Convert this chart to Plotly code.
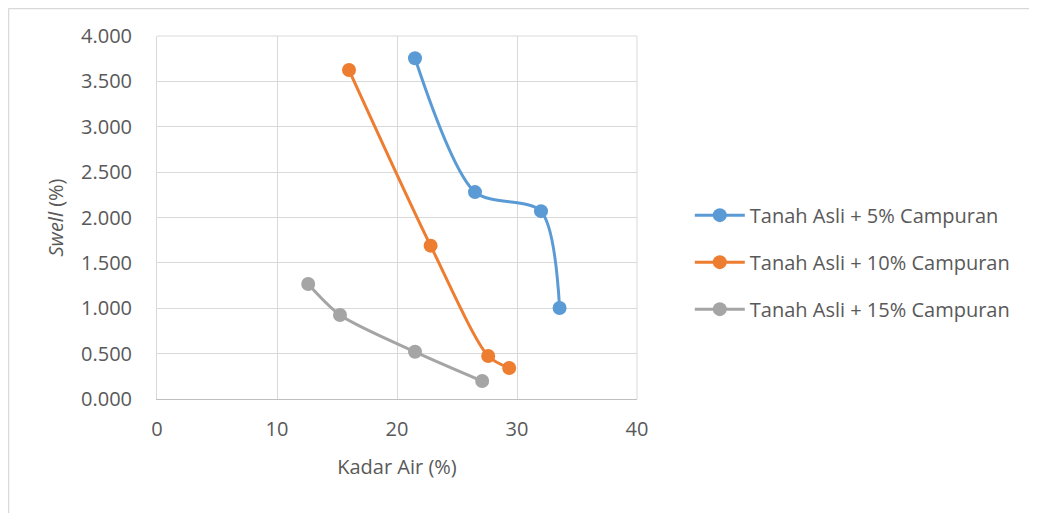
import plotly.graph_objects as go

names = ["Tanah Asli + 5% Campuran", "Tanah Asli + 10% Campuran", "Tanah Asli + 15% Campuran"]
colors = ["#5B9BD5", "#ED7D31", "#A5A5A5"]
x5 = [21.5, 26.5, 32.0, 33.55]
y5 = [3.755, 2.280, 2.070, 1.003]
x10 = [16.0, 22.8, 27.6, 29.35]
y10 = [3.625, 1.690, 0.474, 0.342]
x15 = [12.6, 15.25, 21.5, 27.1]
y15 = [1.267, 0.926, 0.520, 0.198]

fig = go.Figure()
for i, (n, c, xs, ys) in enumerate(zip(names, colors, [x5, x10, x15], [y5, y10, y15])):
    fig.add_trace(go.Scatter(x=xs, y=ys, name=n, mode="lines+markers", legendgroup=f"g{i}",
                             line=dict(color=c, width=3, shape="spline", smoothing=0.8),
                             marker=dict(color=c, size=14)))

fam = "Open Sans, Liberation Sans, sans-serif"
grey = "#595959"
fig.update_layout(
    width=1029, height=505,
    margin=dict(l=149, r=400, t=28, b=114),
    paper_bgcolor="white", plot_bgcolor="white",
    font=dict(family=fam, size=18, color=grey),
    showlegend=True,
    legend=dict(x=1.11, y=0.377, xanchor="left", yanchor="middle",
                font=dict(family=fam, size=20, color=grey),
                tracegroupgap=18, itemwidth=50),
    xaxis=dict(range=[0, 40], dtick=10, showgrid=True, gridcolor="#D9D9D9", gridwidth=1,
               zeroline=False, showline=True, linecolor="#BFBFBF", ticks="",
               ticklabelstandoff=12,
               title=dict(text="Kadar Air (%)", font=dict(family=fam, size=20, color=grey), standoff=18),
               tickfont=dict(family=fam, size=20, color=grey)),
    yaxis=dict(range=[0, 4], dtick=0.5, tickformat=".3f", showgrid=True, gridcolor="#D9D9D9",
               gridwidth=1, zeroline=False, showline=True, linecolor="#D9D9D9", ticks="",
               ticklabelstandoff=20,
               title=dict(text="<i>Swell</i> (%)", font=dict(family=fam, size=20, color=grey), standoff=12),
               tickfont=dict(family=fam, size=20, color=grey)),
    shapes=[
        dict(type="line", xref="paper", yref="paper", x0=-0.3094, x1=1.84, y0=1.0758, y1=1.0758,
             line=dict(color="#D9D9D9", width=1.5)),
        dict(type="line", xref="paper", yref="paper", x0=-0.3094, x1=-0.3094, y0=1.0758, y1=-0.33,
             line=dict(color="#D9D9D9", width=1.5)),
        dict(type="line", xref="paper", yref="paper", x0=1, x1=1, y0=0, y1=1,
             line=dict(color="#D9D9D9", width=1)),
        dict(type="line", xref="paper", yref="paper", x0=0, x1=1, y0=1, y1=1,
             line=dict(color="#D9D9D9", width=1)),
    ],
)
fig.write_html("out.html")
